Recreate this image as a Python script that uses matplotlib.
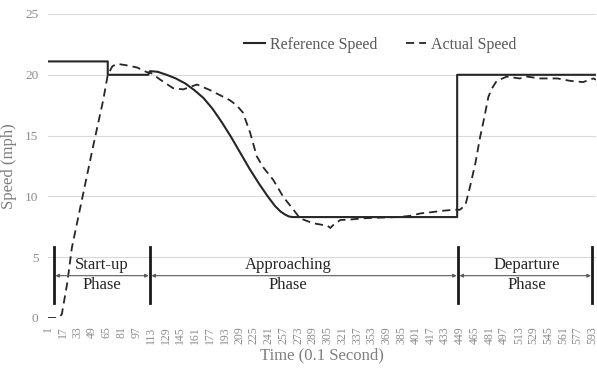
import matplotlib.pyplot as plt
import numpy as np

plt.rcParams['font.family'] = ['Liberation Serif', 'DejaVu Serif']

# reference speed (time index in 0.1 s, mph)
ref_t = [1, 66, 66, 110, 112, 120, 130, 140, 150, 160, 170, 180, 190, 200, 210, 220,
         230, 240, 248, 254, 259, 263, 267, 446, 446, 597]
ref_v = [21.1, 21.1, 20.0, 20.0, 20.3, 20.25, 20.0, 19.7, 19.3, 18.75, 18.1, 17.2, 16.1, 14.9, 13.6, 12.3,
         11.1, 10.0, 9.2, 8.75, 8.5, 8.35, 8.3, 8.3, 20.0, 20.0]

# actual speed
act_t = [1, 12, 16, 22, 27, 50, 61, 66, 71, 76, 85, 98, 109, 112, 125, 137, 148, 163, 177,
         199, 206, 213, 221, 228, 235, 246, 257, 268, 275, 289, 300, 305, 308, 312, 319,
         330, 344, 360, 381, 395, 406, 418, 428, 442, 449, 455, 460, 466, 471, 475, 480,
         484, 489, 500, 514, 522, 536, 555, 569, 583, 594, 597]
act_v = [0.0, 0.0, 0.3, 2.9, 5.8, 14.1, 17.9, 20.0, 20.7, 20.9, 20.8, 20.6, 20.2, 20.2, 19.5, 18.9, 18.8, 19.2, 18.75,
         17.9, 17.5, 16.9, 15.2, 13.3, 12.4, 11.35, 9.95, 8.9, 8.2, 7.8, 7.65, 7.6, 7.4, 7.7, 8.06,
         8.1, 8.2, 8.25, 8.3, 8.4, 8.6, 8.7, 8.8, 8.9, 8.9, 9.3, 10.8, 12.8, 14.9, 16.3, 18.2,
         18.9, 19.5, 19.85, 19.7, 19.85, 19.7, 19.7, 19.5, 19.4, 19.7, 19.6]

phase_lines = [7.5, 112, 447, 593]
phase_names = ["Start-up\nPhase", "Approaching\nPhase", "Departure\nPhase"]
phase_text_x = [60, 262, 522]

x_ticks = list(range(1, 594, 16))

fig = plt.figure(figsize=(5.97, 3.68), dpi=100)
ax = fig.add_axes([48 / 597, 1 - 318 / 368, 548 / 597, 304 / 368])

ax.plot(ref_t, ref_v, color="#262626", lw=1.5, label="Reference Speed")
ax.plot(act_t, act_v, color="#262626", lw=1.3, dashes=(4.5, 2.8), label="Actual Speed")

for px in phase_lines:
    ax.plot([px, px], [1.23, 5.84], color="#1a1a1a", lw=2.0)
for i in range(3):
    ax.annotate("", xy=(phase_lines[i + 1], 3.48), xytext=(phase_lines[i], 3.48),
                arrowprops=dict(arrowstyle="<|-|>", color="#595959", lw=0.8,
                                mutation_scale=5, shrinkA=1, shrinkB=1))
    ax.text(phase_text_x[i], 3.55, phase_names[i], ha="center", va="center",
            fontsize=12, color="#262626", linespacing=1.3)

ax.set_xlim(1, 597)
ax.set_ylim(0, 25)
ax.set_yticks([0, 5, 10, 15, 20, 25])
ax.set_xticks(x_ticks)
ax.set_xticklabels([str(t) for t in x_ticks], rotation=90)
ax.tick_params(axis="x", length=0, pad=6, labelsize=8.5, labelcolor="#8c8c8c")
ax.tick_params(axis="y", length=0, pad=7, labelsize=9.5, labelcolor="#8c8c8c")
ax.yaxis.grid(True, color="#d9d9d9", lw=0.8)
ax.set_axisbelow(True)
for s in ax.spines.values():
    s.set_visible(False)

ax.set_xlabel("Time (0.1 Second)", fontsize=12, color="#7f7f7f", labelpad=2)
ax.set_ylabel("Speed (mph)", fontsize=12, color="#7f7f7f", labelpad=6)

leg = fig.legend(loc="center", bbox_to_anchor=(0.637, 0.878), ncol=2, frameon=False,
                 fontsize=11.5, handlelength=1.3, handletextpad=0.3, columnspacing=1.8)
for t in leg.get_texts():
    t.set_color("#595959")

fig.savefig("out.png", dpi=100)
